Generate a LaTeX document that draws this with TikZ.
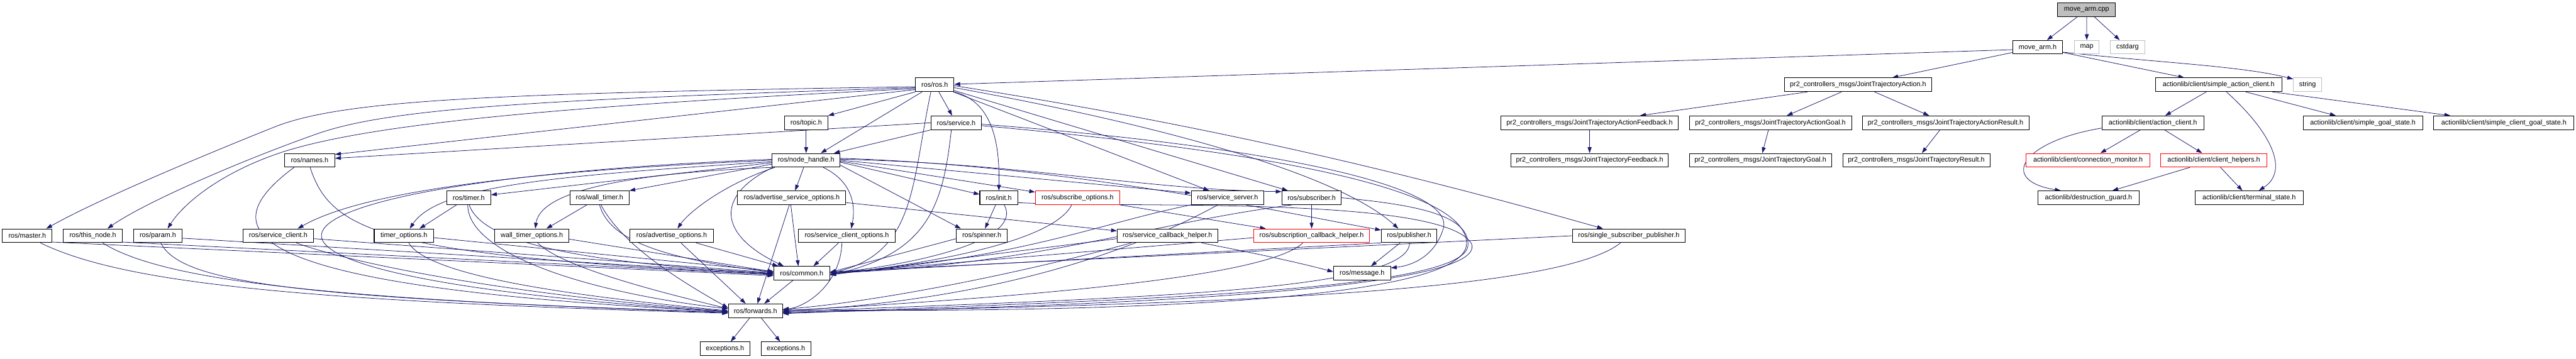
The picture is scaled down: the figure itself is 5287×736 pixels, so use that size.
\documentclass[tikz,border=0pt]{standalone}
\usepackage{fontspec}
\setmainfont{Liberation Sans}
\usetikzlibrary{arrows.meta,backgrounds}
\definecolor{edgec}{RGB}{25,25,112}
\definecolor{lgray}{RGB}{191,191,191}
\begin{document}
\begin{tikzpicture}[x=1pt,y=-1pt,
  box/.style={draw=black,line width=1.3pt,fill=white,minimum height=28pt,inner sep=0pt,font=\fontsize{14}{16}\selectfont,text=black},
  gbox/.style={box,draw=lgray},
  rbox/.style={box,draw=red},
  e/.style={draw=edgec,line width=1pt,-{Triangle[length=12pt,width=8pt]}}]
\useasboundingbox (0,0) rectangle (5287,736);
% row 0
\node[box,fill=lgray,minimum width=119pt] (cpp) at (4282.5,20) {move\_arm.cpp};
% row 1
\node[box,minimum width=102pt] (mah) at (4182,97) {move\_arm.h};
\node[gbox,minimum width=50pt] (map) at (4283,97) {map};
\node[gbox,minimum width=71pt] (cstd) at (4366.5,97) {cstdarg};
% row 2
\node[box,minimum width=79pt] (ros) at (1918.5,174) {ros/ros.h};
\node[box,minimum width=303pt] (jta) at (3813.5,174) {pr2\_controllers\_msgs/JointTrajectoryAction.h};
\node[box,minimum width=259pt] (sac) at (4553.5,174) {actionlib/client/simple\_action\_client.h};
\node[gbox,minimum width=58pt] (string) at (4736,174) {string};
% row 3
\node[box,minimum width=89pt] (topic) at (1654.5,252) {ros/topic.h};
\node[box,minimum width=103pt] (service) at (1962.5,252) {ros/service.h};
\node[box,minimum width=363pt] (jtaf) at (3262.5,252) {pr2\_controllers\_msgs/JointTrajectoryActionFeedback.h};
\node[box,minimum width=333pt] (jtag) at (3633.5,252) {pr2\_controllers\_msgs/JointTrajectoryActionGoal.h};
\node[box,minimum width=342pt] (jtar) at (3993,252) {pr2\_controllers\_msgs/JointTrajectoryActionResult.h};
\node[box,minimum width=209pt] (ac) at (4418.5,252) {actionlib/client/action\_client.h};
\node[box,minimum width=245pt] (sgs) at (4849.5,252) {actionlib/client/simple\_goal\_state.h};
\node[box,minimum width=288pt] (scgs) at (5139,252) {actionlib/client/simple\_client\_goal\_state.h};
% row 4
\node[box,minimum width=103pt] (names) at (635.5,329) {ros/names.h};
\node[box,minimum width=139pt] (nh) at (1654.5,329) {ros/node\_handle.h};
\node[box,minimum width=323pt] (jtf) at (3262.5,329) {pr2\_controllers\_msgs/JointTrajectoryFeedback.h};
\node[box,minimum width=292pt] (jtg) at (3613,329) {pr2\_controllers\_msgs/JointTrajectoryGoal.h};
\node[box,minimum width=302pt] (jtr) at (3933,329) {pr2\_controllers\_msgs/JointTrajectoryResult.h};
\node[rbox,minimum width=255pt] (cm) at (4285.5,329) {actionlib/client/connection\_monitor.h};
\node[rbox,minimum width=217pt] (ch) at (4543.5,329) {actionlib/client/client\_helpers.h};
% row 5
\node[box,minimum width=90pt] (timer) at (962,406) {ros/timer.h};
\node[box,minimum width=121pt] (wtimer) at (1230.5,406) {ros/wall\_timer.h};
\node[box,minimum width=222pt] (aso) at (1625,406) {ros/advertise\_service\_options.h};
\node[box,minimum width=78pt] (init) at (2050,406) {ros/init.h};
\node[rbox,minimum width=173pt] (subopt) at (2211.5,406) {ros/subscribe\_options.h};
\node[box,minimum width=149pt] (ss) at (2519.5,406) {ros/service\_server.h};
\node[box,minimum width=122pt] (sub) at (2692,406) {ros/subscriber.h};
\node[box,minimum width=207pt] (dg) at (4286.5,406) {actionlib/destruction\_guard.h};
\node[box,minimum width=222pt] (ts) at (4616,406) {actionlib/client/terminal\_state.h};
% row 6
\node[box,minimum width=102pt] (master) at (56,484) {ros/master.h};
\node[box,minimum width=121pt] (thisnode) at (190.5,484) {ros/this\_node.h};
\node[box,minimum width=100pt] (param) at (324,484) {ros/param.h};
\node[box,minimum width=144pt] (sc) at (571,484) {ros/service\_client.h};
\node[box,minimum width=122pt] (topt) at (829,484) {timer\_options.h};
\node[box,minimum width=153pt] (wtopt) at (1091.5,484) {wall\_timer\_options.h};
\node[box,minimum width=171pt] (ao) at (1378.5,484) {ros/advertise\_options.h};
\node[box,minimum width=198pt] (sco) at (1738,484) {ros/service\_client\_options.h};
\node[box,minimum width=104pt] (spinner) at (2015,484) {ros/spinner.h};
\node[box,minimum width=206pt] (sch) at (2396,484) {ros/service\_callback\_helper.h};
\node[rbox,minimum width=238pt] (subch) at (2692,484) {ros/subscription\_callback\_helper.h};
\node[box,minimum width=114pt] (pub) at (2892,484) {ros/publisher.h};
\node[box,minimum width=232pt] (ssp) at (3343,484) {ros/single\_subscriber\_publisher.h};
% row 7
\node[box,minimum width=115pt] (common) at (1645.5,561) {ros/common.h};
\node[box,minimum width=117pt] (message) at (2795.5,561) {ros/message.h};
% row 8
\node[box,minimum width=111pt] (fwd) at (1550.5,638) {ros/forwards.h};
% row 9
\node[box,minimum width=102pt] (exc1) at (1488,716) {exceptions.h};
\node[box,minimum width=102pt] (exc2) at (1613,716) {exceptions.h};

\begin{pgfonlayer}{background}
\fill[white] (0,0) rectangle (5287,736);
% top cluster
\draw[e] (cpp) -- (mah);
\draw[e] (cpp) -- (map);
\draw[e] (cpp) -- (cstd);
\draw[e] ([yshift=-5pt]mah.west) -- ([yshift=1pt]ros.east);
\draw[e] (mah) -- (jta);
\draw[e] (mah) -- (sac);
\draw[e] ([yshift=-10pt]mah.east) .. controls (4420,128) and (4600,135) .. ([yshift=-3pt]string.north west);
\draw[e] (jta) -- (jtaf);
\draw[e] (jta) -- (jtag);
\draw[e] (jta) -- (jtar);
\draw[e] (jtaf) -- (jtf);
\draw[e] (jtag) -- (jtg);
\draw[e] (jtar) -- (jtr);
\draw[e] (sac) -- (ac);
\draw[e] (sac) -- (sgs);
\draw[e] (sac) -- (scgs);
\draw[e] ([xshift=16pt]sac.south) .. controls (4660,270) and (4700,350) .. ([xshift=20pt]ts.north);
\draw[e] (ac) -- (cm);
\draw[e] (ac) -- (ch);
\draw[e] ([yshift=-11pt]ac.west) .. controls (4150,290) and (4100,370) .. ([xshift=-57pt]dg.north);
\draw[e] (ch) -- (dg);
\draw[e] (ch) -- (ts);
% ros.h
\draw[e] ([yshift=-4pt]ros.west) .. controls (1000,192) and (700,205) .. (560,262) .. controls (420,318) and (200,410) .. ([xshift=39pt]master.north);
\draw[e] ([yshift=-6pt]ros.west) .. controls (1100,205) and (800,222) .. (650,275) .. controls (480,335) and (290,420) .. ([xshift=30pt]thisnode.north);
\draw[e] ([yshift=-8pt]ros.west) .. controls (1100,220) and (750,258) .. (580,312) .. controls (450,355) and (375,420) .. ([xshift=20pt]param.north);
\draw[e] ([yshift=-10pt]ros.west) -- ([yshift=12pt]names.east);
\draw[e] (service.west) -- ([yshift=4pt]names.east);
\draw[e] (ros.south west) -- (topic.north east);
\draw[e] ([xshift=-26pt]ros.south) -- ([xshift=30pt]nh.north);
\draw[e] (ros) -- (service);
\draw[e] (topic) -- (nh);
\draw[e] (service.south west) -- ([xshift=57pt]nh.north);
\draw[e] (ros.south east) .. controls (2040,210) and (2052,300) .. (init.north);
\draw[e] (ros) -- (ss);
\draw[e] (ros) -- (sub);
\draw[e] ([yshift=-6pt]ros.east) .. controls (2400,260) and (2750,360) .. ([xshift=-22pt]pub.north);
\draw[e] ([yshift=-2pt]ros.east) .. controls (2400,245) and (2800,330) .. ([xshift=-53pt]ssp.north);
\draw[e] ([xshift=-8pt]ros.south) .. controls (1870,380) and (1880,520) .. (common.east);
% service
\draw[e] ([xshift=-10pt]service.south) .. controls (1935,430) and (1900,520) .. ([yshift=-4pt]common.east);
\draw[e] ([yshift=-3pt]service.east) .. controls (2600,300) and (2990,380) .. (2962,470) .. controls (2945,525) and (2900,545) .. ([yshift=11pt]message.east);
\draw[e] ([yshift=-6pt]service.east) .. controls (2700,320) and (3010,400) .. (3010,500) .. controls (3010,640) and (2000,640) .. ([yshift=2pt]fwd.east);
% names
\draw[e] ([xshift=1pt]names.south) .. controls (680,480) and (800,525) .. ([yshift=-2pt]common.west);
\draw[e] ([xshift=-32pt]names.south) .. controls (420,480) and (500,590) .. ([yshift=-2pt]fwd.west);
% node_handle
\draw[e] ([yshift=-5pt]nh.west) -- ([yshift=6pt]timer.east);
\draw[e] ([yshift=-8pt]nh.west) -- (wtimer.north east);
\draw[e] ([xshift=-5pt]nh.south) -- ([xshift=7pt]aso.north);
\draw[e] (nh.west) .. controls (1100,350) and (750,390) .. ([xshift=40pt]sc.north);
\draw[e] ([yshift=-3pt]nh.west) .. controls (1150,360) and (900,380) .. ([xshift=12pt]topt.north);
\draw[e] (nh.south west) .. controls (1300,355) and (1110,390) .. ([xshift=7pt]wtopt.north);
\draw[e] ([xshift=6pt]nh.south west) .. controls (1480,380) and (1410,440) .. ([xshift=12pt]ao.north);
\draw[e] ([xshift=2pt]nh.south west) .. controls (1470,400) and (1470,480) .. ([xshift=-37pt]common.north);
\draw[e] ([xshift=35pt]nh.south) .. controls (1755,375) and (1755,430) .. ([xshift=9pt]sco.north);
\draw[e] ([yshift=-10pt]nh.east) -- ([xshift=-43pt]spinner.north);
\draw[e] ([yshift=-4pt]nh.east) -- ([yshift=7pt]init.west);
\draw[e] ([yshift=-2pt]nh.east) -- ([yshift=-3pt]subopt.north west);
\draw[e] (nh.east) -- ([yshift=-5pt]ss.north west);
\draw[e] ([yshift=2pt]nh.east) .. controls (2100,335) and (2350,390) .. ([yshift=-2pt]sub.north west);
\draw[e] ([yshift=4pt]nh.east) .. controls (2200,340) and (2650,440) .. ([yshift=-3pt]pub.north west);
\draw[e] ([yshift=2pt]nh.west) .. controls (500,370) and (250,560) .. ([yshift=-2pt]fwd.west);
% init
\draw[e] (init) -- (spinner);
\draw[e] ([xshift=11pt]init.south) .. controls (2100,490) and (1900,540) .. (common.east);
\draw[e] ([yshift=-10pt]init.east) .. controls (2300,428) and (2960,400) .. (3020,500) .. controls (3060,600) and (2200,630) .. ([yshift=-4pt]fwd.east);
% spinner
\draw[e] ([yshift=-6pt]spinner.west) -- ([yshift=2pt]common.east);
% subscribe options
\draw[e] (subopt.south east) -- ([xshift=-94pt]subch.north);
\draw[e] ([xshift=-12pt]subopt.south) .. controls (2170,480) and (2000,530) .. ([yshift=-3pt]common.east);
% service server
\draw[e] (ss.south west) .. controls (2250,460) and (2100,530) .. (common.east);
\draw[e] ([xshift=-20pt]ss.south) .. controls (2300,530) and (2000,620) .. (fwd.east);
% subscriber
\draw[e] (sub) -- (subch);
\draw[e] ([xshift=-40pt]sub.south) .. controls (2350,460) and (2150,540) .. (common.east);
\draw[e] (sub.east) .. controls (2900,420) and (3015,440) .. (3013,503) .. controls (3010,600) and (2300,615) .. ([yshift=-6pt]fwd.east);
% advertise service options
\draw[e] ([yshift=-10pt]aso.east) -- ([yshift=10pt]sch.west);
\draw[e] ([xshift=-2pt]aso.south) -- ([xshift=-7pt]common.north);
\draw[e] ([xshift=-5pt]aso.south) -- ([xshift=4pt]fwd.north);
% service client options
\draw[e] ([xshift=-17pt]sco.south) -- ([xshift=24pt]common.north);
\draw[e] ([xshift=-10pt]sco.south) .. controls (1725,580) and (1660,628) .. ([yshift=2pt]fwd.east);
% advertise options
\draw[e] ([xshift=19pt]ao.south) -- ([xshift=-20pt]fwd.north);
\draw[e] ([xshift=50pt]ao.south) -- ([xshift=10pt]common.north west);
% wall timer options
\draw[e] ([yshift=-7pt]wtopt.east) -- ([yshift=3pt]common.west);
\draw[e] ([xshift=12pt]wtopt.south) .. controls (1160,555) and (1400,610) .. ([yshift=4pt]fwd.west);
% wall timer
\draw[e] ([xshift=-26pt]wtimer.south) -- ([xshift=30pt]wtopt.north);
\draw[e] (wtimer.south) .. controls (1250,490) and (1350,530) .. ([yshift=2pt]common.west);
\draw[e] ([xshift=3pt]wtimer.south) .. controls (1280,510) and (1420,590) .. ([yshift=6pt]fwd.west);
% timer
\draw[e] ([xshift=-25pt]timer.south) -- ([xshift=32pt]topt.north);
\draw[e] ([xshift=1pt]timer.south) .. controls (990,500) and (1200,540) .. (common.west);
\draw[e] ([xshift=-2pt]timer.south) .. controls (960,520) and (1200,600) .. ([yshift=4pt]fwd.west);
% timer options
\draw[e] ([yshift=-4pt]topt.east) -- ([yshift=4pt]common.west);
\draw[e] ([xshift=10pt]topt.south) .. controls (880,570) and (1200,610) .. (fwd.west);
% service client
\draw[e] ([yshift=-6pt]sc.east) -- ([yshift=1pt]common.west);
\draw[e] ([xshift=37pt]sc.south) .. controls (750,550) and (1100,610) .. ([yshift=-1pt]fwd.west);
% param, this node, master
\draw[e] ([yshift=-5pt]param.east) -- ([yshift=-1pt]common.west);
\draw[e] ([xshift=6pt]param.south) .. controls (370,580) and (600,612) .. ([yshift=-3pt]fwd.west);
\draw[e] ([yshift=-13pt]thisnode.east) -- ([yshift=-3pt]common.west);
\draw[e] ([xshift=20pt]thisnode.south) .. controls (340,580) and (700,615) .. ([yshift=-4pt]fwd.west);
\draw[e] ([yshift=-13pt]master.east) -- ([yshift=-5pt]common.west);
\draw[e] ([xshift=27pt]master.south) .. controls (250,580) and (600,618) .. ([yshift=-5pt]fwd.west);
% service callback helper
\draw[e] ([yshift=-6pt]sch.west) -- ([yshift=-3pt]common.east);
\draw[e] ([xshift=-74pt]sch.south) .. controls (2100,560) and (1800,620) .. ([yshift=3pt]fwd.east);
\draw[e] ([xshift=70pt]sch.south) .. controls (2550,515) and (2650,535) .. ([yshift=3pt]message.west);
% subscription callback helper
\draw[e] ([yshift=-4pt]subch.west) -- (common.east);
\draw[e] ([xshift=-18pt]subch.south) .. controls (2600,570) and (2100,610) .. (fwd.east);
% publisher
\draw[e] (pub) -- (message);
\draw[e] (pub.south west) -- ([yshift=1pt]common.east);
\draw[e] ([xshift=1pt]pub.south) .. controls (2893,600) and (2300,612) .. ([yshift=-2pt]fwd.east);
% single subscriber publisher
\draw[e] (ssp.west) -- ([yshift=3pt]common.east);
\draw[e] ([xshift=-17pt]ssp.south) .. controls (3200,600) and (2500,625) .. ([yshift=-3pt]fwd.east);
% common / forwards
\draw[e] (common) -- (fwd);
\draw[e] (fwd) -- (exc1);
\draw[e] (fwd) -- (exc2);
\end{pgfonlayer}
\end{tikzpicture}
\end{document}
